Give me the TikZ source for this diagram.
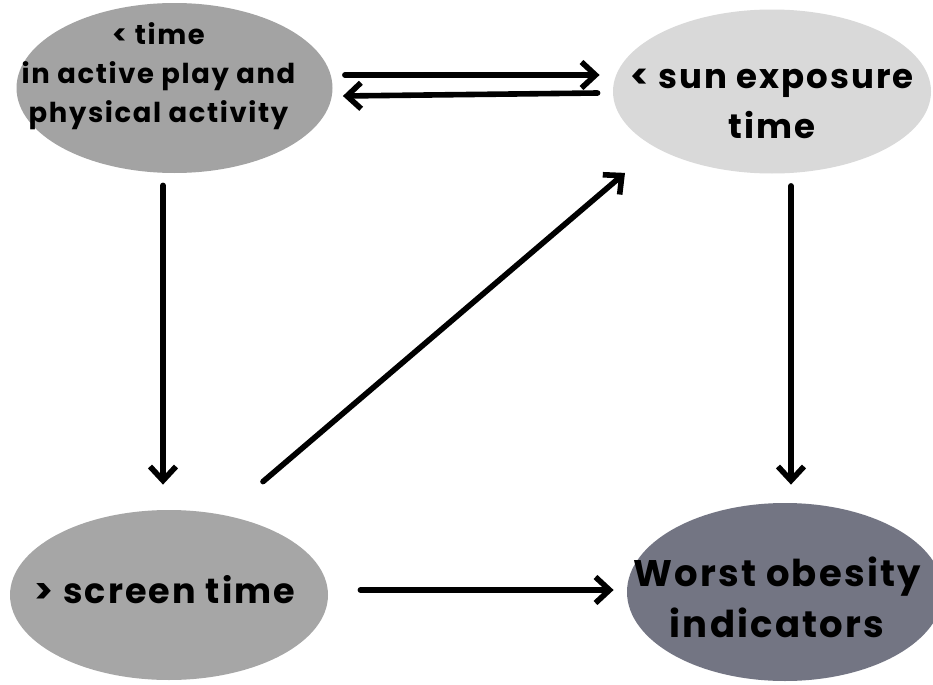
\documentclass[tikz,border=0pt]{standalone}
\usepackage{fontspec}
\setmainfont{Poppins}[LetterSpace=6]
\usepackage{tikz}
\usetikzlibrary{arrows.meta,calc,shapes.geometric}
\definecolor{playgray}{HTML}{A3A3A3}
\definecolor{sungray}{HTML}{D9D9D9}
\definecolor{screengray}{HTML}{A6A6A6}
\definecolor{obesegray}{HTML}{737583}

\begin{document}
\begin{tikzpicture}[x=0.5pt,y=-0.5pt,
   blob/.style={ellipse,draw=none,inner sep=0pt},
   blobtext/.style 2 args={align=center,font=\bfseries\fontsize{#1}{#2}\selectfont},
   link/.style={-{Straight Barb[length=7pt,width=13pt,line width=2.8pt]},line width=2.8pt,line cap=round}]
\useasboundingbox (0,0) rectangle (933,685);
\clip (0,0) rectangle (933,685);
\fill[white] (0,0) rectangle (933,685);
% the four factors
\node[blob,fill=playgray,minimum width=158pt,minimum height=85pt,
   label={[blobtext={13.7}{19.5},xshift=-8pt,yshift=6pt]center:{< time\\in active play and\\physical activity}}]
   (play) at (174.5,88) {};
\node[blob,fill=sungray,minimum width=159pt,minimum height=82pt,
   label={[blobtext={17}{25},yshift=-6pt]center:{< sun exposure\\time}}]
   (sun) at (772,91.5) {};
\node[blob,fill=screengray,minimum width=159pt,minimum height=85pt,
   label={[blobtext={17.5}{25},xshift=-2pt,yshift=2.5pt]center:{> screen time}}]
   (screen) at (169,595) {};
\node[blob,fill=obesegray,minimum width=158pt,minimum height=89pt,
   label={[blobtext={18.5}{25.5},xshift=-4pt,yshift=-2.5pt]center:{Worst obesity\\indicators}}]
   (obese) at (785,592) {};
% links
\draw[link] ($(play.east)+(12,-13)$) -- ($(sun.west)+(-13,-16.5)$);
\draw[link] ($(sun.west)+(-15,1.5)$) -- ($(play.east)+(10,8)$);
\draw[link] ($(play.south)+(-11.5,12)$) -- ($(screen.north)+(-6,-25)$);
\draw[link] ($(screen.north)+(94,-28)$) -- ($(sun.south)+(-147,-1)$);
\draw[link] ($(sun.south)+(19,12)$) -- ($(obese.north)+(6,-18)$);
\draw[link] ($(screen.east)+(32,-5)$) -- ($(obese.west)+(-13,-2)$);
\end{tikzpicture}
\end{document}
